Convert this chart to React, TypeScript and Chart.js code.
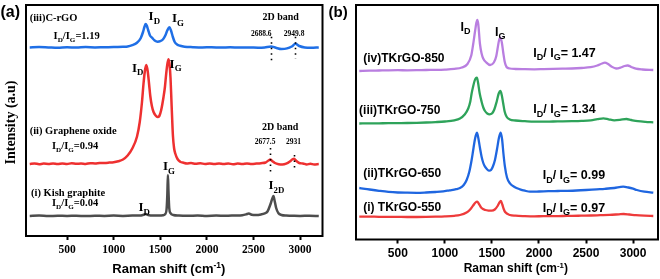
import { useEffect, useRef } from 'react';
import { Chart, registerables } from 'chart.js';

Chart.register(...registerables);

type Pt = [number, number];

// ---------- shared ----------
const WN_TICKS = [500, 1000, 1500, 2000, 2500, 3000];
const AXIS_TITLE = 'Raman shift (cm^{-1})';

// ---------- panel (a) data: [Raman shift cm-1, intensity a.u.] ----------
const cRGO: Pt[] = [
  [100, 188.5], [200, 188.9], [300, 188.6], [400, 188.3], [500, 188.7], [600, 188.5], [700, 188.9], [800, 188.6],
  [900, 188.8], [1000, 188.9], [1100, 189.3], [1150, 189.6], [1200, 190.8], [1250, 193.2], [1290, 197.8], [1315, 204],
  [1330, 209], [1342, 212], [1355, 210.5], [1370, 206], [1390, 200.5], [1411, 198.3], [1440, 195.5], [1471, 194.3],
  [1500, 194.8], [1530, 196.8], [1554, 200.5], [1575, 205.5], [1598, 208.7], [1615, 205.5], [1635, 199], [1655, 194],
  [1680, 191.5], [1714, 190.2], [1760, 189.3], [1850, 188.8], [1950, 188.5], [2050, 188.8], [2150, 188.4], [2250, 188.7],
  [2350, 188.4], [2450, 188.6], [2550, 188.3], [2620, 188.6], [2688, 189.6], [2740, 188.2], [2800, 187], [2860, 187.6],
  [2910, 189.5], [2950, 192.2], [2990, 190], [3050, 188.5], [3120, 188.2], [3200, 188.5],
];

const grapheneOxide: Pt[] = [
  [100, 72], [150, 72.6], [200, 71.8], [250, 72.4], [300, 72.1], [350, 72.6], [400, 71.9], [450, 72.5], [500, 72],
  [550, 72.7], [600, 72.2], [650, 72.5], [700, 72.1], [750, 72.8], [800, 72.5], [850, 73], [900, 73.1], [950, 73.4],
  [1000, 73.8], [1050, 74.8], [1100, 76.5], [1150, 80.5], [1200, 87.5], [1250, 99.3], [1280, 114], [1304, 134],
  [1320, 152], [1335, 165], [1350, 171], [1365, 165], [1380, 152], [1393, 140], [1410, 130], [1428, 124], [1450, 120.5],
  [1471, 119], [1490, 120], [1510, 126], [1535, 139], [1550, 149], [1564, 162.7], [1578, 173], [1589, 176.7], [1600, 171],
  [1610, 158], [1622, 130], [1636, 100], [1648, 88], [1661, 82.5], [1685, 77], [1714, 74.3], [1750, 73.2], [1786, 72.5],
  [1830, 72.9], [1880, 72.2], [1930, 72.7], [1980, 72], [2030, 72.6], [2080, 72.1], [2130, 72.6], [2180, 72], [2230, 72.5],
  [2280, 71.8], [2330, 72.4], [2380, 72], [2430, 72.6], [2480, 72.1], [2530, 72.4], [2580, 72.8], [2630, 73.5],
  [2660, 75.5], [2680, 76.5], [2700, 75], [2730, 73], [2770, 71.8], [2810, 71.5], [2850, 72.3], [2890, 74.5],
  [2915, 76.5], [2935, 77.3], [2960, 75], [2990, 73], [3030, 72.5], [3070, 71.6], [3110, 72.2], [3150, 71.5], [3200, 71.9],
];

const kishGraphite: Pt[] = [
  [100, 20], [200, 20.4], [300, 19.9], [400, 20.3], [500, 20], [600, 20.3], [700, 19.9], [800, 20.3], [900, 20.1],
  [1000, 20.4], [1100, 20.1], [1200, 20.4], [1280, 20.5], [1320, 21.2], [1345, 21.9], [1370, 21], [1420, 20.4],
  [1480, 20.5], [1530, 20.8], [1555, 22.2], [1568, 27], [1576, 42], [1582, 61], [1588, 45], [1596, 28], [1610, 22.8],
  [1640, 21], [1700, 20.4], [1800, 20.2], [1900, 20.5], [2000, 20.1], [2100, 20.4], [2200, 20.2], [2300, 20.5],
  [2380, 20.8], [2420, 21.6], [2450, 22.5], [2480, 21.3], [2530, 21], [2580, 21.6], [2620, 22.6], [2650, 24.5],
  [2679, 31], [2698, 36.5], [2714, 40], [2728, 34.5], [2743, 28], [2768, 22.7], [2800, 21], [2850, 20.4], [2900, 20.3],
  [3000, 20.1], [3100, 20.3], [3200, 20],
];

// ---------- panel (b) data ----------
const tk850: Pt[] = [
  [90, 168.5], [200, 168.8], [300, 169], [400, 169.2], [500, 169.3], [600, 169.2], [700, 169.3], [800, 169.5],
  [900, 169.6], [1000, 169.9], [1100, 170.6], [1180, 172], [1240, 175.5], [1280, 184], [1300, 195], [1320, 208],
  [1335, 217], [1345, 219.5], [1355, 215], [1372, 196], [1390, 186], [1407, 181], [1440, 177], [1480, 174.5],
  [1520, 177], [1545, 183], [1560, 191], [1575, 199], [1590, 201.8], [1605, 197], [1620, 187], [1635, 178],
  [1655, 172.5], [1690, 171], [1750, 170.5], [1850, 170.3], [1950, 170.2], [2050, 170.4], [2150, 170.6], [2250, 170.8],
  [2350, 171], [2450, 171.5], [2550, 172.3], [2620, 174], [2670, 176], [2700, 176.8], [2730, 175.8], [2770, 173],
  [2820, 171], [2870, 172], [2910, 173.5], [2944, 174], [2980, 172.5], [3030, 170.8], [3100, 170], [3215, 169.5],
];

const tk750: Pt[] = [
  [90, 116], [200, 116.1], [300, 116.2], [400, 116.3], [500, 116.4], [600, 116.5], [700, 116.7], [800, 117],
  [900, 117.4], [1000, 118], [1100, 119.2], [1160, 121], [1210, 125], [1248, 131], [1270, 138], [1284, 146],
  [1300, 153], [1315, 158.5], [1330, 161.5], [1340, 161.8], [1352, 157], [1370, 146], [1390, 137.8], [1408, 132],
  [1426, 128.5], [1450, 126], [1475, 125.2], [1500, 126], [1525, 130], [1550, 137.8], [1572, 146], [1590, 148.5],
  [1605, 144], [1620, 136], [1635, 128], [1656, 122.8], [1690, 120], [1750, 119], [1850, 118.3], [1950, 117.8],
  [2050, 117.8], [2150, 118], [2250, 118.1], [2350, 118.3], [2450, 118.6], [2550, 119.2], [2620, 120.3], [2685, 121.2],
  [2740, 120.2], [2800, 119.2], [2860, 119.6], [2929, 120.5], [2980, 119.5], [3050, 118.3], [3130, 117.6], [3215, 117.2],
];

const tk650: Pt[] = [
  [90, 51.5], [150, 50.7], [200, 50], [300, 48.7], [400, 47.6], [500, 47], [600, 46.8], [700, 46.7], [800, 47],
  [900, 47.5], [950, 47.8], [1050, 49.2], [1120, 50.3], [1160, 51.5], [1200, 54.5], [1231, 59.5], [1260, 68],
  [1284, 79.5], [1300, 89], [1315, 98], [1328, 104], [1340, 106.8], [1352, 103], [1372, 92], [1390, 82.8], [1408, 76.5],
  [1426, 72.8], [1450, 70], [1471, 68.8], [1490, 69.5], [1510, 73], [1532, 79.5], [1555, 91], [1575, 102], [1593, 106.8],
  [1608, 100], [1622, 86], [1638, 72.8], [1660, 62], [1691, 56.2], [1740, 52.5], [1798, 50.2], [1850, 48.8], [1904, 47.8],
  [2000, 48], [2100, 48.3], [2200, 48.5], [2300, 48.7], [2400, 49], [2500, 49.5], [2612, 50.2], [2700, 50.7], [2800, 51.5],
  [2895, 52.8], [2950, 52], [3000, 50.8], [3040, 49.5], [3120, 47.8], [3215, 46.8],
];

const tk550: Pt[] = [
  [90, 22.8], [200, 22.9], [300, 22.7], [400, 22.7], [500, 22.6], [600, 22.5], [700, 22.5], [800, 22.6], [900, 22.8],
  [1000, 23.1], [1100, 23.7], [1160, 24.5], [1230, 27], [1266, 29.8], [1300, 34], [1325, 37], [1344, 37.8], [1362, 35.5],
  [1390, 31.5], [1430, 29.5], [1470, 28.9], [1497, 28.8], [1530, 30], [1560, 33.5], [1580, 37], [1595, 38.5], [1610, 35],
  [1625, 30.5], [1640, 27.5], [1691, 24.5], [1750, 23.8], [1850, 23.4], [1950, 23.2], [2050, 23.3], [2150, 23.3],
  [2250, 23.5], [2350, 23.6], [2450, 23.8], [2550, 24], [2650, 24.3], [2750, 24.6], [2850, 25.2], [2900, 25.5],
  [2960, 25], [3030, 24.3], [3120, 23.8], [3215, 23.5],
];

// ---------- annotations (text, anchored at data coordinates) ----------
type Lab = { t: string; x: number; y: number; s: number; a?: 'left' | 'center' };
const SERIF = '"Liberation Serif", "Times New Roman", serif';
const SANS = '"Liberation Sans", Arial, sans-serif';

const labelsA: Lab[] = [
  { t: '(iii)C-rGO', x: 99, y: 218.7, s: 10.5 },
  { t: 'I_D/I_G=1.19', x: 356, y: 201, s: 10.5 },
  { t: 'I_D', x: 1375, y: 220, s: 13 },
  { t: 'I_G', x: 1625, y: 218, s: 13 },
  { t: '2D band', x: 2792, y: 219.3, s: 10, a: 'center' },
  { t: '2688.6', x: 2583, y: 202.7, s: 7.5, a: 'center' },
  { t: '2949.8', x: 2936, y: 202.7, s: 7.5, a: 'center' },
  { t: '(ii) Graphene oxide', x: 99, y: 105.3, s: 10.5 },
  { t: 'I_D/I_G=0.94', x: 339, y: 90.3, s: 10.5 },
  { t: 'I_D', x: 1197, y: 168.7, s: 13 },
  { t: 'I_G', x: 1600, y: 172.7, s: 13 },
  { t: '2D band', x: 2786, y: 109.3, s: 10, a: 'center' },
  { t: '2677.5', x: 2625, y: 94.3, s: 7.5, a: 'center' },
  { t: '2931', x: 2929, y: 94.3, s: 7.5, a: 'center' },
  { t: '(i) Kish graphite', x: 114, y: 43.7, s: 10.5 },
  { t: 'I_D/I_G=0.04', x: 339, y: 33.7, s: 10.5 },
  { t: 'I_G', x: 1529, y: 70, s: 13 },
  { t: 'I_D', x: 1267, y: 29.3, s: 13 },
  { t: 'I_{2D}', x: 2661, y: 51, s: 13 },
];
const dotsA: [number, number, number][] = [
  [2688.6, 174.3, 199.3],
  [2949.8, 177, 199.3],
  [2677.5, 64.3, 88],
  [2931, 68, 81],
];

const labelsB: Lab[] = [
  { t: '(iv)TKrGO-850', x: 131, y: 181.2, s: 12 },
  { t: '(iii)TKrGO-750', x: 88, y: 129.5, s: 12 },
  { t: '(ii)TKrGO-650', x: 131, y: 66.2, s: 12 },
  { t: '(i) TKrGO-550', x: 131, y: 32.8, s: 12 },
  { t: 'I_D/ I_G= 1.47', x: 1939, y: 186.8, s: 12.5 },
  { t: 'I_D/ I_G= 1.34', x: 1939, y: 130.5, s: 12.5 },
  { t: 'I_D/ I_G= 0.99', x: 2039, y: 64.5, s: 12.5 },
  { t: 'I_D/ I_G= 0.97', x: 2039, y: 31.8, s: 12.5 },
  { t: 'I_D', x: 1167, y: 212.8, s: 12.5 },
  { t: 'I_G', x: 1532, y: 207.8, s: 12.5 },
];

// ---------- helpers ----------
function drawRich(
  ctx: CanvasRenderingContext2D,
  text: string,
  px: number,
  py: number,
  size: number,
  family: string,
  align: 'left' | 'center' = 'left',
  subScale = 0.7,
) {
  const tokens: { s: string; k: number; w: number }[] = [];
  const re = /_\{([^}]*)\}|\^\{([^}]*)\}|_(.)|([^_^]+)/g;
  let m: RegExpExecArray | null;
  while ((m = re.exec(text))) {
    if (m[1] !== undefined) tokens.push({ s: m[1], k: 1, w: 0 });
    else if (m[2] !== undefined) tokens.push({ s: m[2], k: 2, w: 0 });
    else if (m[3] !== undefined) tokens.push({ s: m[3], k: 1, w: 0 });
    else tokens.push({ s: m[4], k: 0, w: 0 });
  }
  const font = (k: number) => `bold ${k ? size * subScale : size}px ${family}`;
  let total = 0;
  for (const t of tokens) {
    ctx.font = font(t.k);
    t.w = ctx.measureText(t.s).width;
    total += t.w;
  }
  let x = align === 'center' ? px - total / 2 : px;
  const base = py + size * 0.34;
  ctx.textAlign = 'left';
  ctx.textBaseline = 'alphabetic';
  ctx.fillStyle = '#000';
  for (const t of tokens) {
    ctx.font = font(t.k);
    const dy = t.k === 1 ? size * 0.28 : t.k === 2 ? -size * 0.4 : 0;
    ctx.fillText(t.s, x, base + dy);
    x += t.w;
  }
}

const toXY = (arr: Pt[]) => arr.map(([x, y]) => ({ x, y }));

function ds(arr: Pt[], color: string, w: number) {
  return {
    data: toXY(arr),
    borderColor: color,
    backgroundColor: color,
    borderWidth: w,
    pointRadius: 0,
    cubicInterpolationMode: 'monotone' as const,
    fill: false,
  };
}

function makeOptions(p: {
  xmin: number; xmax: number; ymax: number; axisH: number;
  pad: { left: number; top: number; right: number; bottom: number };
  tickFont: any;
}) {
  return {
    responsive: false,
    animation: false,
    layout: { padding: p.pad },
    plugins: { legend: { display: false }, tooltip: { enabled: false } },
    scales: {
      x: {
        type: 'linear',
        min: p.xmin,
        max: p.xmax,
        afterBuildTicks: (s: any) => { s.ticks = WN_TICKS.map((v) => ({ value: v })); },
        afterFit: (s: any) => { s.height = p.axisH; },
        ticks: {
          font: p.tickFont, color: '#000', padding: 3, maxRotation: 0, autoSkip: false,
          callback: (v: any) => String(v),
        },
        grid: { display: true, drawOnChartArea: false, drawTicks: true, tickLength: 4, tickColor: '#000', tickWidth: 2 },
        border: { display: false },
      },
      y: { type: 'linear', min: 0, max: p.ymax, display: false },
    },
  } as any;
}

export default function App() {
  const refA = useRef<HTMLCanvasElement>(null);
  const refB = useRef<HTMLCanvasElement>(null);

  useEffect(() => {
    const annA = {
      id: 'annA',
      afterDatasetsDraw(chart: any) {
        const { ctx, chartArea: ca, scales } = chart;
        const xs = scales.x, ys = scales.y;
        ctx.save();
        ctx.lineWidth = 2;
        ctx.strokeStyle = '#000';
        ctx.strokeRect(ca.left, ca.top, ca.right - ca.left, ca.bottom - ca.top);
        for (const l of labelsA) drawRich(ctx, l.t, xs.getPixelForValue(l.x), ys.getPixelForValue(l.y), l.s, SERIF, l.a || 'left', 0.68);
        ctx.setLineDash([1.5, 4]);
        ctx.lineWidth = 1.6;
        for (const [wx, y0, y1] of dotsA) {
          const px = Math.round(xs.getPixelForValue(wx)) + 0.5;
          ctx.beginPath();
          ctx.moveTo(px, ys.getPixelForValue(y1));
          ctx.lineTo(px, ys.getPixelForValue(y0));
          ctx.stroke();
        }
        ctx.setLineDash([]);
        drawRich(ctx, AXIS_TITLE, 168.8, 268.3, 13, SANS, 'center', 0.65);
        ctx.save();
        ctx.translate(10.3, 122.5);
        ctx.rotate(-Math.PI / 2);
        drawRich(ctx, 'Intensity (a.u)', 0, 0, 14, SERIF, 'center');
        ctx.restore();
        drawRich(ctx, '(a)', 0.5, 11.7, 16, SANS, 'left');
        ctx.restore();
      },
    };
    const annB = {
      id: 'annB',
      afterDatasetsDraw(chart: any) {
        const { ctx, chartArea: ca, scales } = chart;
        const xs = scales.x, ys = scales.y;
        ctx.save();
        ctx.lineWidth = 2;
        ctx.strokeStyle = '#000';
        ctx.strokeRect(ca.left, ca.top, ca.right - ca.left, ca.bottom - ca.top);
        for (const l of labelsB) drawRich(ctx, l.t, xs.getPixelForValue(l.x), ys.getPixelForValue(l.y), l.s, SANS, l.a || 'left', 0.72);
        drawRich(ctx, AXIS_TITLE, 195.8, 268.3, 12, SANS, 'center', 0.65);
        drawRich(ctx, '(b)', 8.5, 11.7, 15, SANS, 'left');
        ctx.restore();
      },
    };

    const chartA = new Chart(refA.current!, {
      type: 'line',
      data: {
        datasets: [ds(kishGraphite, '#4d4d4d', 2.5), ds(grapheneOxide, '#ee3030', 2.5), ds(cRGO, '#1f6fe6', 2.5)],
      },
      options: makeOptions({
        xmin: 60, xmax: 3240, ymax: 231, axisH: 43,
        pad: { left: 26, top: 5, right: 7.5, bottom: 0 },
        tickFont: { family: SERIF, weight: 'bold', size: 11.5 },
      }),
      plugins: [annA],
    });
    const chartB = new Chart(refB.current!, {
      type: 'line',
      data: {
        datasets: [
          ds(tk550, '#ee3b3b', 2.3), ds(tk650, '#1f66e0', 2.3), ds(tk750, '#2ea35a', 2.3), ds(tk850, '#b97ee0', 2.3),
        ],
      },
      options: makeOptions({
        xmin: 55, xmax: 3265, ymax: 234.5, axisH: 39.5,
        pad: { left: 36, top: 5, right: 2, bottom: 0 },
        tickFont: { family: SANS, weight: 'bold', size: 12 },
      }),
      plugins: [annB],
    });
    return () => {
      chartA.destroy();
      chartB.destroy();
    };
  }, []);

  return (
    <div style={{ position: 'fixed', left: 0, top: 0, width: 660, height: 279, background: '#fff', overflow: 'hidden' }}>
      <canvas ref={refA} width={330} height={279} style={{ position: 'absolute', left: 0, top: 0, width: 330, height: 279 }} />
      <canvas ref={refB} width={340} height={279} style={{ position: 'absolute', left: 320, top: 0, width: 340, height: 279 }} />
    </div>
  );
}
